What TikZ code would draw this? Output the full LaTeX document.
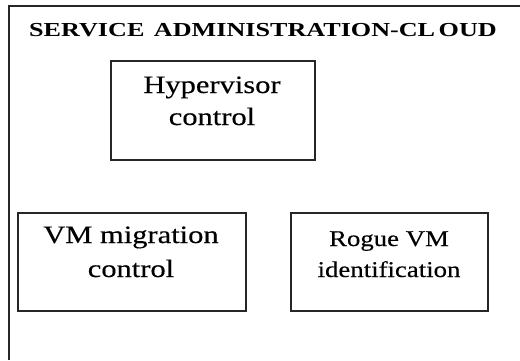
\documentclass[tikz,border=0pt]{standalone}
\usepackage{fontspec}
\setmainfont{Liberation Serif}
% wide serif faces for the heading and the box labels
\newfontfamily\headfont[FakeStretch=1.32]{Liberation Serif}
\newfontfamily\boxfont[FakeStretch=1.22, FakeBold=0.35]{Liberation Serif}
\newfontfamily\smallboxfont[FakeStretch=1.19, FakeBold=0.35]{Liberation Serif}
\tikzset{
  frame/.style={draw=black!85, line width=1.4pt},
  unit/.style={draw=black!85, line width=1.4pt, fill=none, inner sep=0pt},
  heading/.style={anchor=base west, inner sep=0pt, font=\headfont\bfseries\fontsize{19.8}{22}\selectfont},
  label/.style={anchor=base, inner sep=0pt, font=\boxfont\fontsize{25}{30}\selectfont},
  smalllabel/.style={anchor=base, inner sep=0pt, font=\smallboxfont\fontsize{22.5}{27}\selectfont}
}
\begin{document}
\begin{tikzpicture}[x=1pt, y=-1pt]
  \useasboundingbox (0,0) rectangle (520,360);
  % outer region: top and left edges only
  \coordinate (fbl) at (9,360);
  \coordinate (ftl) at (9,6);
  \coordinate (ftr) at (520,6);
  \draw[frame] (fbl) -- (ftl) -- (ftr);
  \node[heading] (title) at (29,36) {SERVICE\hspace{0.15em} ADMINISTRATION-CL\kern0.18em OUD};

  % hypervisor control
  \node[unit, minimum width=204pt, minimum height=99pt] (hyp) at (213,110.5) {};
  \node[label] (hypa) at (212,93) {Hypervisor};
  \node[label] (hypb) at (212,125) {control};

  % VM migration control
  \node[unit, minimum width=228pt, minimum height=98pt] (mig) at (132,262) {};
  \node[label] (miga) at (131,243) {VM migration};
  \node[label] (migb) at (131,277) {control};

  % rogue VM identification
  \node[unit, minimum width=197pt, minimum height=98pt] (rog) at (389.5,262) {};
  \node[smalllabel] (roga) at (389,246) {Rogue VM};
  \node[smalllabel] (rogb) at (389,277) {identification};
\end{tikzpicture}
\end{document}
